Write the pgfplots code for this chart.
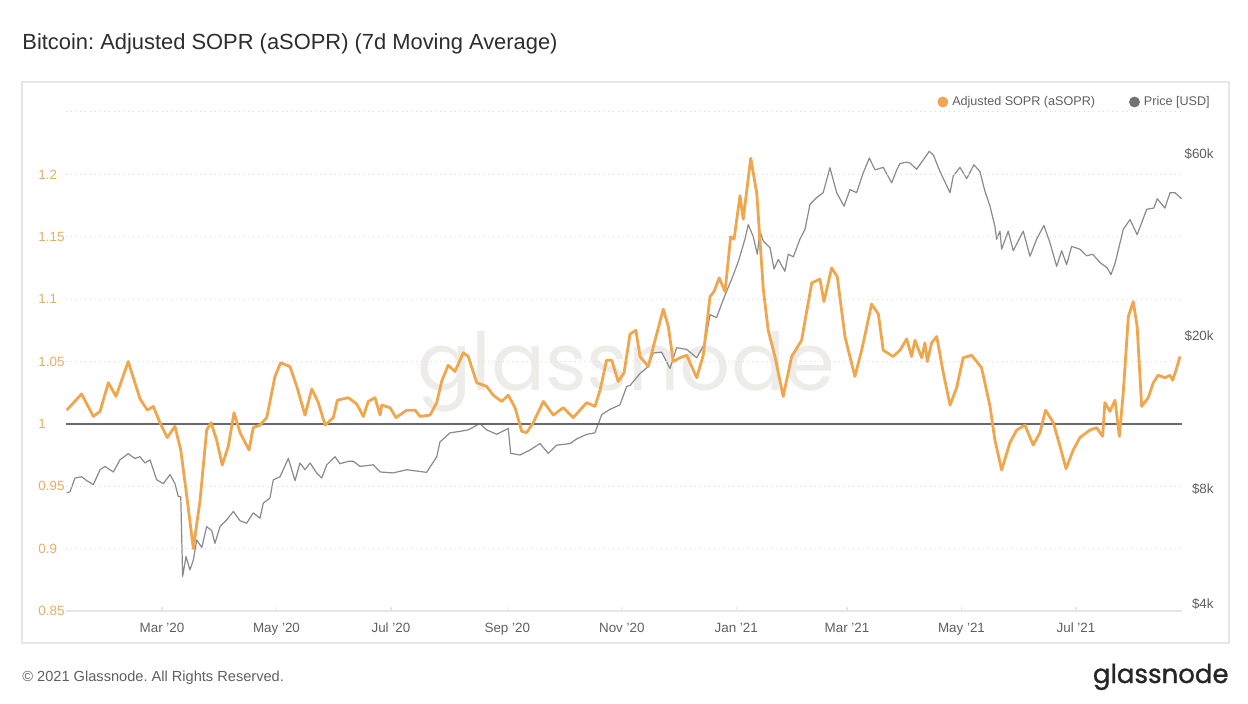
\documentclass[border=0pt]{standalone}
\usepackage{pgfplots}
\usepackage{pgfplotstable}
\pgfplotsset{compat=1.18}
\usepackage{fontspec}
\setmainfont{Liberation Sans}
\newfontfamily\logofont{Poppins}[FakeBold=1.2]
\newfontfamily\wmfont{Poppins}
\frenchspacing
\definecolor{sopr}{RGB}{240,166,76}
\definecolor{soprlab}{RGB}{232,172,104}
\definecolor{pricec}{RGB}{138,138,138}
\definecolor{onec}{RGB}{105,105,105}
\definecolor{gridc}{RGB}{218,218,218}
\definecolor{framec}{RGB}{230,230,230}
\definecolor{labc}{RGB}{95,95,95}
\definecolor{titc}{RGB}{45,45,45}
\definecolor{wmc}{RGB}{238,236,232}

% x = days since 2020-01-01
\pgfplotstableread{
day asopr
9.2 1.011
17.2 1.024
23.4 1.006
27.0 1.010
31.4 1.033
35.5 1.022
42.0 1.050
48.3 1.020
52.2 1.011
55.4 1.014
58.9 1.001
62.8 0.989
66.9 0.998
70.0 0.979
73.2 0.942
76.7 0.900
80.3 0.939
83.8 0.995
86.1 1.001
89.1 0.987
92.1 0.967
95.3 0.982
98.4 1.009
101.6 0.993
106.4 0.979
108.6 0.997
112.2 0.999
115.8 1.005
120.2 1.038
123.2 1.049
128.2 1.046
131.8 1.030
136.2 1.007
139.8 1.028
143.3 1.017
146.9 0.999
151.3 1.005
153.4 1.019
159.3 1.021
163.7 1.016
167.3 1.006
169.9 1.018
173.5 1.021
176.2 1.007
177.1 1.015
181.5 1.013
184.7 1.005
190.4 1.011
194.8 1.011
197.5 1.006
202.8 1.007
206.4 1.017
209.0 1.034
212.5 1.047
216.1 1.042
220.5 1.057
223.2 1.054
227.7 1.033
233.0 1.030
236.5 1.023
241.0 1.018
244.5 1.023
248.1 1.013
251.7 0.994
254.3 0.993
257.8 1.001
263.2 1.018
268.5 1.007
273.8 1.013
279.1 1.005
286.3 1.017
290.7 1.014
293.4 1.027
296.9 1.051
299.6 1.051
303.1 1.034
306.2 1.041
309.4 1.072
312.5 1.075
314.7 1.054
319.1 1.046
322.7 1.067
327.1 1.092
329.8 1.078
332.4 1.050
336.0 1.053
339.6 1.055
344.9 1.037
348.4 1.055
352.0 1.102
354.1 1.106
356.9 1.117
360.0 1.106
363.0 1.150
364.8 1.148
368.0 1.183
369.7 1.164
373.7 1.213
376.9 1.185
380.4 1.108
383.0 1.075
386.6 1.054
391.0 1.022
395.5 1.054
400.8 1.067
406.2 1.113
410.6 1.116
412.7 1.098
416.8 1.125
419.8 1.118
423.9 1.070
429.2 1.038
432.8 1.059
438.1 1.096
441.7 1.088
444.3 1.059
449.6 1.054
453.2 1.059
456.8 1.068
459.4 1.054
461.2 1.067
464.8 1.053
466.5 1.065
467.8 1.050
470.1 1.065
472.8 1.070
476.3 1.041
479.9 1.015
483.4 1.029
486.9 1.053
491.4 1.055
496.7 1.045
501.2 1.014
503.8 0.987
507.4 0.963
511.8 0.985
515.4 0.995
519.8 0.999
524.2 0.983
527.8 0.993
530.8 1.011
534.9 1.001
538.5 0.982
541.7 0.964
545.5 0.979
549.1 0.989
554.4 0.995
558.0 0.997
561.2 0.990
562.4 1.017
565.1 1.010
567.8 1.019
570.1 0.990
572.2 1.025
574.9 1.086
577.5 1.098
579.6 1.078
582.0 1.014
585.5 1.021
588.2 1.033
590.8 1.039
594.4 1.037
597.1 1.039
598.5 1.035
600.3 1.043
602.4 1.054
}\soprtable

\pgfplotstableread{
day price
9.2 7800
11.0 7860
13.6 8530
17.2 8600
19.9 8400
23.4 8200
27.0 8970
29.6 9150
34.1 8850
37.6 9520
42.0 9880
45.6 9600
48.3 9700
50.9 9340
53.6 9520
57.2 8440
60.7 8250
64.3 8710
66.9 8250
68.7 7630
70.0 7630
71.0 4720
72.8 5320
74.9 4910
76.7 5210
78.5 5880
81.2 5620
83.8 6370
86.5 6220
88.2 5760
90.9 6370
94.5 6640
98.0 6980
101.6 6600
105.1 6500
108.6 6920
112.2 6700
114.0 7340
117.5 7560
119.3 8440
122.9 8600
127.3 9600
130.9 8400
133.5 9340
136.2 8970
138.9 9340
142.4 8800
145.1 8530
147.8 9240
152.2 9700
154.8 9300
159.5 9440
161.9 9440
165.5 9150
172.6 9240
176.2 8850
183.2 8800
190.4 8970
201.0 8830
206.4 9700
208.1 10600
213.5 11200
218.8 11300
223.2 11400
229.4 11840
233.0 11400
238.3 11100
244.5 11500
245.8 9900
250.7 9800
256.1 10100
261.4 10500
265.8 9900
270.3 10400
277.4 10500
281.0 10800
286.3 11100
290.7 11200
294.3 12500
298.7 12900
304.0 13250
307.6 14800
309.4 14900
314.7 16000
319.1 16700
321.8 18100
326.2 18200
330.7 16500
334.2 18700
339.6 18500
344.9 17600
349.3 19200
352.0 22800
355.5 22400
359.1 25000
363.5 28200
367.1 31400
370.6 35900
372.4 39200
375.0 36500
377.2 32800
378.6 37700
380.4 35500
384.0 34100
386.1 30000
388.4 31800
391.9 29600
393.7 32800
396.4 32300
399.9 35900
402.6 38100
405.3 44300
408.8 46100
412.3 47500
415.9 55200
419.5 47500
423.4 43800
426.6 48400
430.1 47500
433.7 53600
436.9 58500
439.9 54500
444.3 55300
448.8 50400
451.5 54500
453.2 56600
456.8 57100
458.5 56800
462.1 54700
468.8 60900
471.0 59600
474.5 54000
479.9 47500
481.6 52500
485.2 55300
488.8 51700
492.6 56200
495.8 54000
498.5 47900
501.2 43800
503.8 38800
504.7 35900
506.5 37700
507.4 33800
510.9 37700
513.6 33500
518.9 37700
522.5 32400
526.0 35900
529.9 39000
533.1 35200
536.7 30500
539.4 33500
542.0 30800
544.7 34400
549.1 33800
552.7 32500
555.9 32800
559.8 31200
563.7 30200
565.6 29000
567.8 31000
572.2 38100
575.8 40400
579.6 36900
584.7 43000
588.5 43300
590.3 45800
594.4 43300
597.1 47500
599.7 47500
603.3 45800
}\pricetable

\begin{document}
\begin{tikzpicture}[x=0.5pt,y=0.5pt]
\path[use as bounding box] (0,0) rectangle (1248,703);
\draw[framec, line width=0.6pt] (22,60) rectangle (1229,621);
\node[anchor=base west, inner sep=0pt, font=\fontsize{10.95pt}{13pt}\selectfont, text=titc] at (22,653) {Bitcoin: Adjusted SOPR (aSOPR) (7d Moving Average)};
\node[anchor=base west, inner sep=0pt, font=\fontsize{7.3pt}{9pt}\selectfont, text=labc] at (22,22) {© 2021 Glassnode. All Rights Reserved.};
\node[anchor=base east, inner sep=0pt, font=\logofont\fontsize{13pt}{16pt}\selectfont, text=black!85] at (1229,20) {glassnode};
\node[anchor=base, inner sep=0pt, font=\wmfont\fontsize{40pt}{48pt}\selectfont, text=wmc] at (626,313) {glassnode};

% price axis (right, log)
\begin{axis}[
  at={(33pt,46pt)}, anchor=south west, scale only axis,
  width=558pt, height=249.5pt,
  xmin=8.85, xmax=603.5, ymode=log, ymin=3835, ymax=77200,
  axis x line=none, axis y line*=right,
  y axis line style={draw=none},
  xtick=\empty,
  ytick={4000,8000,20000,60000},
  yticklabels={\$4k,\$8k,\$20k,\$60k},
  ytick style={draw=none}, minor tick style={draw=none},
  yticklabel style={anchor=east, inner sep=0pt, xshift=16pt, font=\fontsize{6.7pt}{8pt}\selectfont, text=labc},
  legend columns=2,
  legend cell align=left,
  legend style={at={(axis description cs:0.7805,1.020)}, anchor=west, draw=none, fill=none, inner sep=0pt,
    font=\fontsize{6.3pt}{8pt}\selectfont, text=labc,
    /tikz/every even column/.append style={column sep=15pt}},
]
\addlegendimage{legend image code/.code={\fill[sopr] (2.5pt,0pt) circle (2.5pt);}}
\addlegendentry{Adjusted SOPR (aSOPR)}
\addlegendimage{legend image code/.code={\fill[black!55] (2.5pt,0pt) circle (2.5pt);}}
\addlegendentry{Price [USD]}
\addplot[pricec, line width=0.6pt, line join=round, forget plot] table[x=day,y=price]{\pricetable};
\end{axis}

% aSOPR axis (left)
\begin{axis}[
  at={(33pt,46pt)}, anchor=south west, scale only axis,
  width=558pt, height=249.5pt,
  xmin=8.85, xmax=603.5, ymin=0.85, ymax=1.25,
  axis x line*=bottom, axis y line*=left,
  x axis line style={draw=framec, line width=0.6pt},
  y axis line style={draw=none},
  xtick={60,121,182,244,305,366,425,486,547},
  xticklabels={Mar '20, May '20, Jul '20, Sep '20, Nov '20, Jan '21, Mar '21, May '21, Jul '21},
  xtick style={draw=framec, line width=0.6pt}, tick align=inside, major tick length=2pt,
  ytick={0.85,0.9,0.95,1,1.05,1.1,1.15,1.2,1.25},
  yticklabels={0.85,0.9,0.95,1,1.05,1.1,1.15,1.2,},
  ytick style={draw=none},
  ymajorgrids, major grid style={draw=gridc, dotted, line width=0.5pt},
  yticklabel style={anchor=west, inner sep=0pt, xshift=-14pt, font=\fontsize{6.7pt}{8pt}\selectfont, text=soprlab},
  xticklabel style={anchor=base, inner sep=0pt, yshift=-10.5pt, font=\fontsize{6.7pt}{8pt}\selectfont, text=labc},
]
\addplot[onec, line width=1.1pt] coordinates {(8.85,1) (603.5,1)};
\addplot[sopr, line width=1.4pt, line join=round] table[x=day,y=asopr]{\soprtable};
\end{axis}
\end{tikzpicture}
\end{document}
